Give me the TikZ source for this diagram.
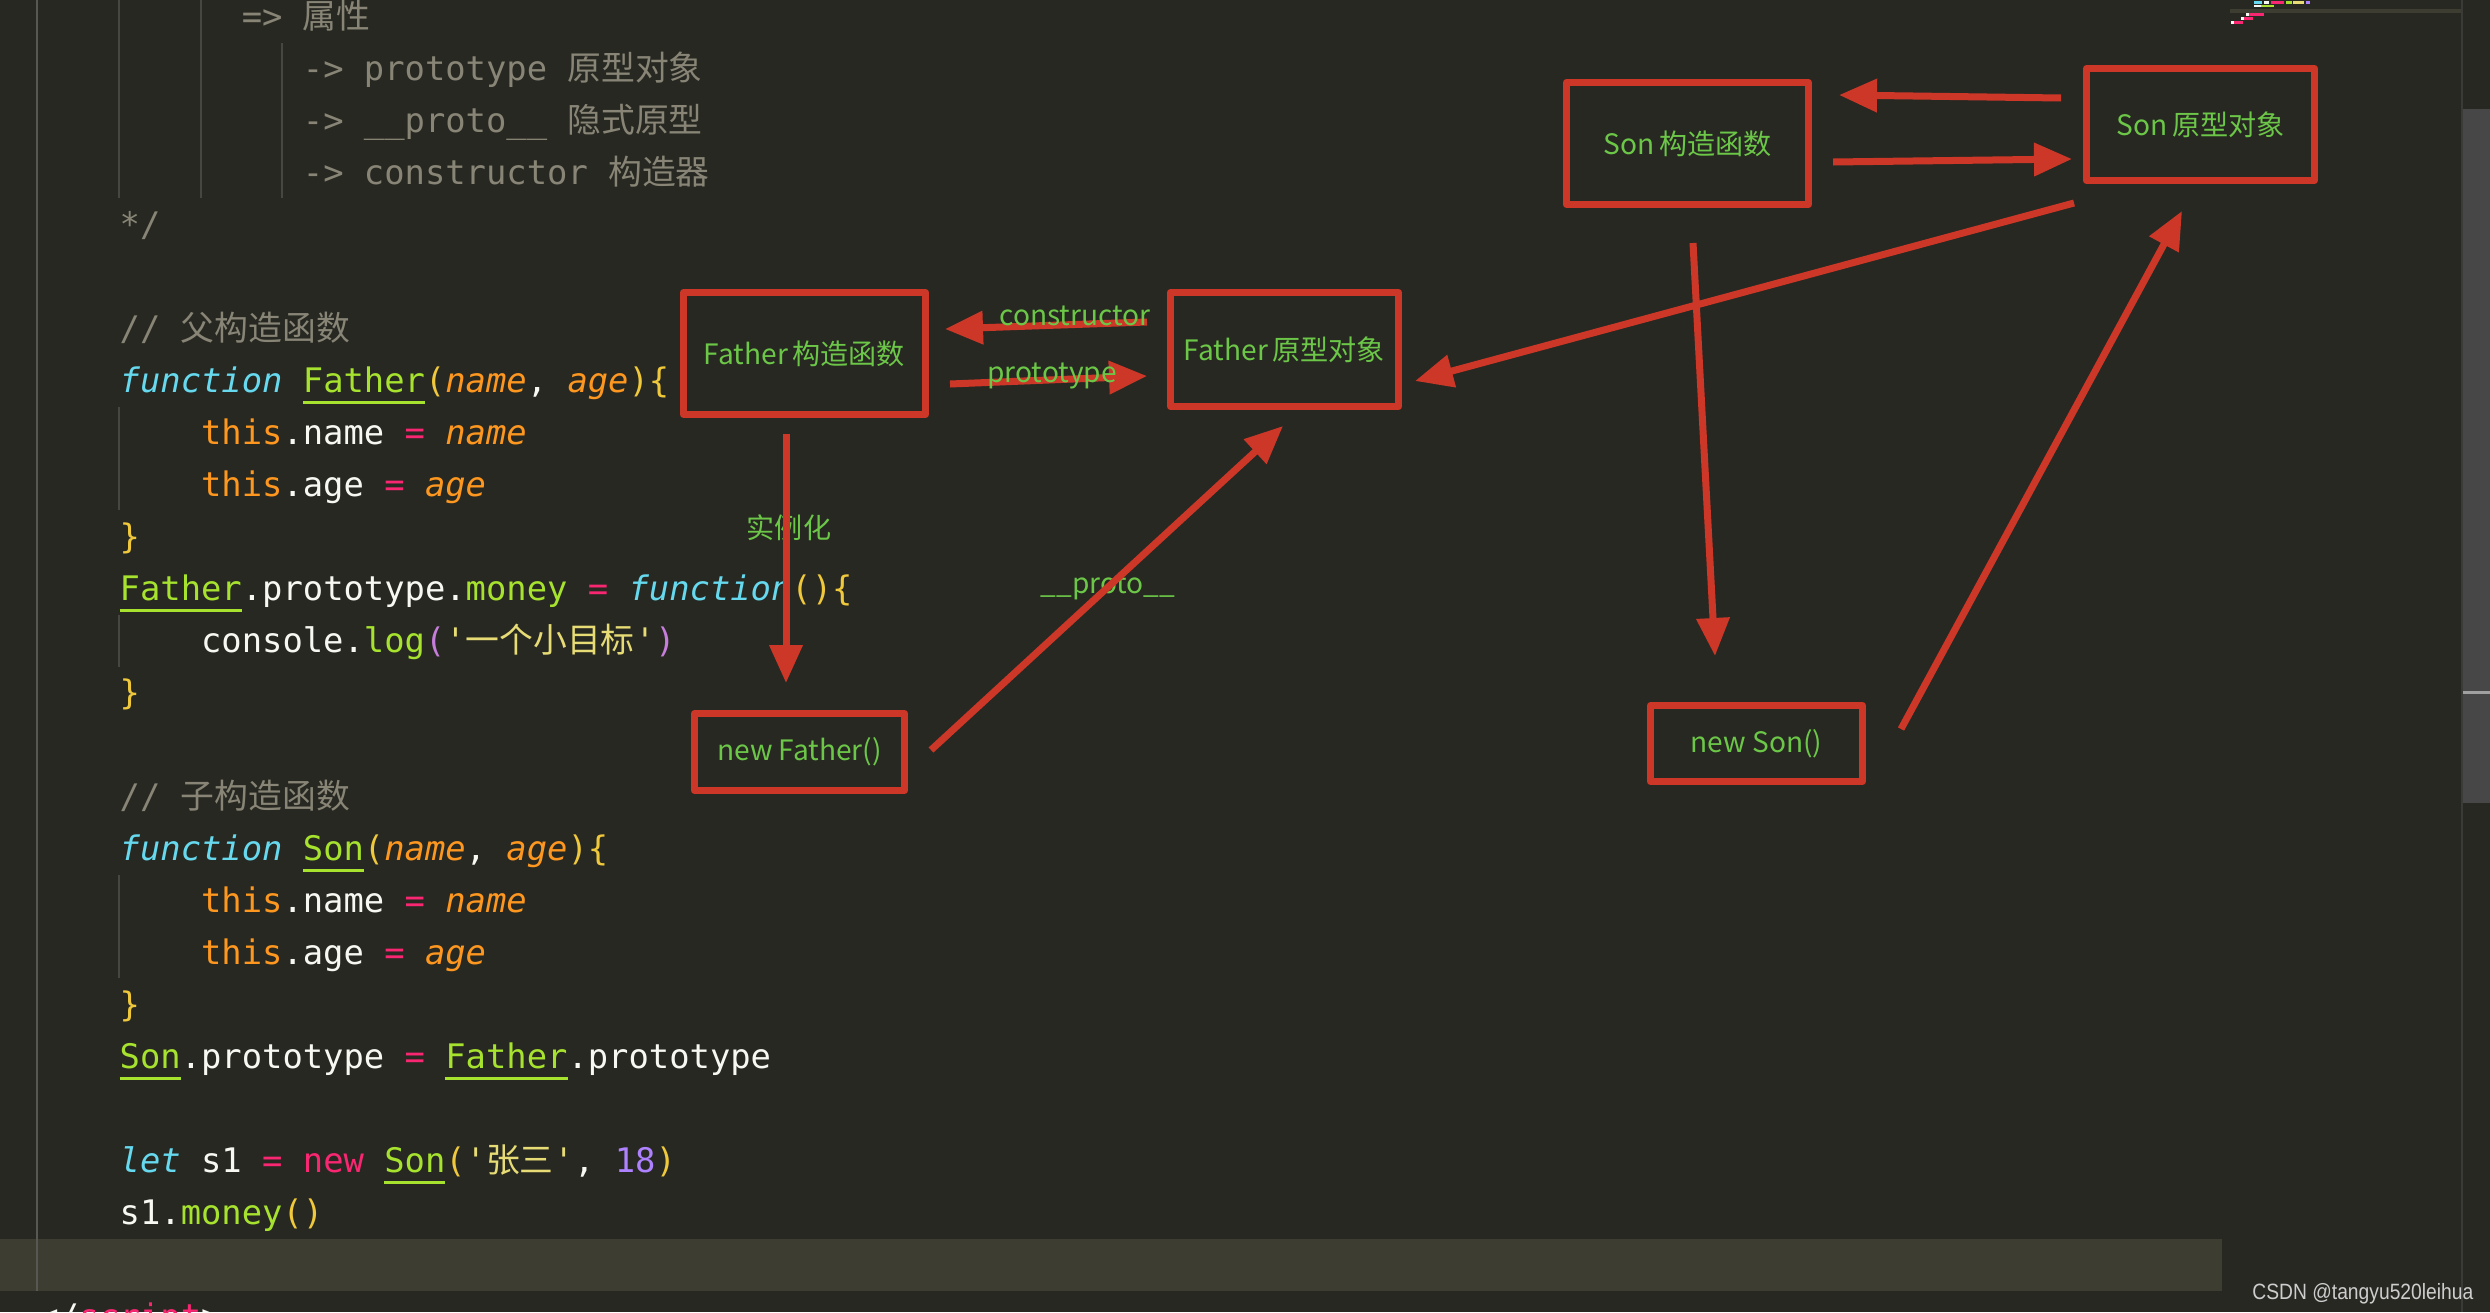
\documentclass[tikz,border=0pt]{standalone}
\usepackage{fontspec}
\usepackage{xcolor}
\usepackage{tikz}
\usetikzlibrary{arrows.meta,positioning}
\newfontfamily\codefont{DejaVu Sans Mono}[ItalicFont={DejaVu Sans Mono Oblique}]
\newfontfamily\cjkfont{Noto Sans CJK SC}
\newfontfamily\notefont{Noto Sans CJK SC}
\newfontfamily\markfont{Liberation Sans}[FakeStretch=0.87]
\definecolor{editorbg}{RGB}{39,40,34}
\definecolor{curline}{RGB}{62,61,50}
\definecolor{guidecol}{RGB}{70,71,64}
\definecolor{gutterline}{RGB}{88,88,82}
\definecolor{mkwhite}{RGB}{248,248,242}
\definecolor{mkcomment}{RGB}{136,133,118}
\definecolor{mkcyan}{RGB}{102,217,239}
\definecolor{mkgreen}{RGB}{166,226,46}
\definecolor{mkorange}{RGB}{253,151,31}
\definecolor{mkpink}{RGB}{249,38,114}
\definecolor{mkyellow}{RGB}{240,200,60}
\definecolor{mkstring}{RGB}{230,219,116}
\definecolor{mkviolet}{RGB}{199,125,219}
\definecolor{mkpurple}{RGB}{174,129,255}
\definecolor{annred}{RGB}{205,55,40}
\definecolor{anngreen}{RGB}{108,199,72}
\definecolor{sbthumb}{RGB}{71,71,71}
\definecolor{sbline}{RGB}{160,160,160}
\definecolor{sbsep}{RGB}{58,58,54}
\definecolor{wmgrey}{RGB}{205,205,205}
% syntax colouring helpers
\newcommand{\zh}[1]{{\cjkfont #1}}
\newcommand{\jscmt}[1]{\textcolor{mkcomment}{#1}}
\newcommand{\jskw}[1]{\textcolor{mkcyan}{\itshape #1}}
\newcommand{\jsfn}[1]{\textcolor{mkgreen}{\setbox0=\hbox{#1}\rlap{\rule[-3.3pt]{\wd0}{0.8pt}}\box0}}
\newcommand{\jspar}[1]{\textcolor{mkorange}{\itshape #1}}
\newcommand{\jsthis}[1]{\textcolor{mkorange}{#1}}
\newcommand{\jsop}[1]{\textcolor{mkpink}{#1}}
\newcommand{\jsbr}[1]{\textcolor{mkyellow}{#1}}
\newcommand{\jsmeth}[1]{\textcolor{mkgreen}{#1}}
\newcommand{\jspn}[1]{\textcolor{mkviolet}{#1}}
\newcommand{\jsstr}[1]{\textcolor{mkstring}{#1}}
\newcommand{\jsnum}[1]{\textcolor{mkpurple}{#1}}
\tikzset{
  codeline/.style={anchor=base west,inner sep=0pt,text=mkwhite,
                   font=\codefont\fontsize{9.62}{11}\selectfont},
  notebox/.style={draw=annred,line width=0.7mm,line join=round,text=anngreen,
                  inner sep=2pt,font=\notefont\fontsize{8}{9}\selectfont},
  notelbl/.style={text=anngreen,inner sep=0pt,font=\notefont\fontsize{8}{9}\selectfont},
  redarr/.style={draw=annred,line width=0.7mm,-{Triangle[length=3.8mm,width=3.2mm]}},
  indent/.style={draw=guidecol,line width=0.15mm},
  mini/.style={line width=0.25mm},
}

\begin{document}
\begin{tikzpicture}[x=0.1mm,y=-0.1mm]
  \useasboundingbox (0,0) rectangle (2490,1312);
  \clip (0,0) rectangle (2490,1312);
  \fill[editorbg] (0,0) rectangle (2490,1312);
  \fill[curline] (0,1239) rectangle (2222,1291);

  % indent guides
  \draw[gutterline,line width=0.2mm] (37,0) -- (37,1291);
  \draw[indent] (119,0) -- (119,198);
  \draw[indent] (201,0) -- (201,198);
  \draw[indent] (282,43) -- (282,198);
  \draw[indent] (119,407) -- (119,510);
  \draw[indent] (119,615) -- (119,667);
  \draw[indent] (119,875) -- (119,978);

  % code
  \node[codeline] (c00) at (241.1,28.5)  {\jscmt{=> \zh{属性}}};
  \node[codeline] (c01) at (302.2,80.5)  {\jscmt{-> prototype \zh{原型对象}}};
  \node[codeline] (c02) at (302.2,132.5) {\jscmt{-> \_\_proto\_\_ \zh{隐式原型}}};
  \node[codeline] (c03) at (302.2,184.5) {\jscmt{-> constructor \zh{构造器}}};
  \node[codeline] (c04) at (119,236.5)   {\jscmt{*/}};
  \node[codeline] (c06) at (119,340.5)   {\jscmt{// \zh{父构造函数}}};
  \node[codeline] (c07) at (119,392.5)   {\jskw{function} \jsfn{Father}\jsbr{(}\jspar{name}, \jspar{age}\jsbr{)\{}};
  \node[codeline] (c08) at (200.4,444.5) {\jsthis{this}.name \jsop{=} \jspar{name}};
  \node[codeline] (c09) at (200.4,496.5) {\jsthis{this}.age \jsop{=} \jspar{age}};
  \node[codeline] (c10) at (119,548.5)   {\jsbr{\}}};
  \node[codeline] (c11) at (119,600.5)   {\jsfn{Father}.prototype.\jsmeth{money} \jsop{=} \jskw{function}\jsbr{()\{}};
  \node[codeline] (c12) at (200.4,652.5) {console.\jsmeth{log}\jspn{(}\jsstr{\textquotesingle\zh{一个小目标}\textquotesingle}\jspn{)}};
  \node[codeline] (c13) at (119,704.5)   {\jsbr{\}}};
  \node[codeline] (c15) at (119,808.5)   {\jscmt{// \zh{子构造函数}}};
  \node[codeline] (c16) at (119,860.5)   {\jskw{function} \jsfn{Son}\jsbr{(}\jspar{name}, \jspar{age}\jsbr{)\{}};
  \node[codeline] (c17) at (200.4,912.5) {\jsthis{this}.name \jsop{=} \jspar{name}};
  \node[codeline] (c18) at (200.4,964.5) {\jsthis{this}.age \jsop{=} \jspar{age}};
  \node[codeline] (c19) at (119,1016.5)  {\jsbr{\}}};
  \node[codeline] (c20) at (119,1068.5)  {\jsfn{Son}.prototype \jsop{=} \jsfn{Father}.prototype};
  \node[codeline] (c22) at (119,1172.5)  {\jskw{let} s1 \jsop{=} \jsop{new} \jsfn{Son}\jsbr{(}\jsstr{\textquotesingle\zh{张三}\textquotesingle}, \jsnum{18}\jsbr{)}};
  \node[codeline] (c23) at (119,1224.5)  {s1.\jsmeth{money}\jsbr{()}};
  \node[codeline] (c25) at (37.6,1328.5) {</\jsop{script}>};

  % minimap and scrollbar
  \fill[curline] (2230,9) rectangle (2462,12.5);
  \draw[mini,mkcyan]   (2254,2.3) -- (2262,2.3);
  \draw[mini,mkwhite]  (2264,2.3) -- (2269,2.3);
  \draw[mini,mkpink]   (2271,2.3) -- (2284,2.3);
  \draw[mini,mkgreen]  (2286,2.3) -- (2292,2.3);
  \draw[mini,mkstring] (2293,2.3) -- (2304,2.3);
  \draw[mini,mkpurple] (2306,2.3) -- (2310,2.3);
  \draw[mini,mkwhite]  (2254,6) -- (2261,6);
  \draw[mini,mkgreen]  (2261,6) -- (2274,6);
  \draw[mini,mkwhite]  (2246,14.7) -- (2249,14.7);
  \draw[mini,mkpink]   (2249,14.7) -- (2264,14.7);
  \draw[mini,mkwhite]  (2241,18.7) -- (2244,18.7);
  \draw[mini,mkpink]   (2244,18.7) -- (2253,18.7);
  \draw[mini,mkwhite]  (2231,22.7) -- (2234,22.7);
  \draw[mini,mkpink]   (2234,22.7) -- (2243,22.7);
  \fill[sbthumb] (2463,109) rectangle (2490,803);
  \draw[sbline,line width=0.3mm] (2463,692) -- (2490,692);
  \draw[sbsep,line width=0.2mm] (2462,0) -- (2462,1312);

  \node[anchor=base east,inner sep=0pt,text=wmgrey,
        font=\markfont\fontsize{6.3}{7}\selectfont] (mark) at (2474,1299) {CSDN @tangyu520leihua};

  % annotations
  \node[notelbl] (lblnew) at (789,528) {实例化};
  \node[notelbl] (lbldunder) at (1108,587) {\_\_proto\_\_};

  \node[notebox,minimum width=24.2mm,minimum height=12.2mm] (fatherctor)  at (804.5,353.5) {Father\,构造函数};
  \node[notebox,minimum width=22.8mm,minimum height=11.4mm] (fatherproto) at (1284.5,349.5) {Father\,原型对象};
  \node[notebox,minimum width=21mm,minimum height=7.7mm]    (fathernew)   at (799.5,752) {new Father()};
  \node[notebox,minimum width=24.2mm,minimum height=12.2mm] (sonctor)     at (1687.5,143.5) {Son\,构造函数};
  \node[notebox,minimum width=22.8mm,minimum height=11.2mm] (sonproto)    at (2200.5,124.5) {Son\,原型对象};
  \node[notebox,minimum width=21.2mm,minimum height=7.6mm]  (sonnew)      at (1756.5,743.5) {new Son()};

  \draw[redarr] ([shift={(-20,-27.5)}]fatherproto.west) -- ([shift={(16,-24.5)}]fatherctor.east);
  \draw[redarr] ([shift={(21,30.5)}]fatherctor.east) -- ([shift={(-20,26.5)}]fatherproto.west);
  \draw[redarr] ([shift={(-18.5,16)}]fatherctor.south) -- ([shift={(-13.5,-27)}]fathernew.north);
  \draw[redarr] ([shift={(23,-2)}]fathernew.east) -- ([shift={(-1.5,16)}]fatherproto.south);
  \draw[redarr] ([shift={(-9,19)}]sonproto.south west) -- ([shift={(13,31.5)}]fatherproto.east);
  \draw[redarr] ([shift={(-22,-26.5)}]sonproto.west) -- ([shift={(27,-48.5)}]sonctor.east);
  \draw[redarr] ([shift={(21,18.5)}]sonctor.east) -- ([shift={(-11,34.5)}]sonproto.west);
  \draw[redarr] ([shift={(5.5,35)}]sonctor.south) -- ([shift={(-41.5,-46)}]sonnew.north);
  \draw[redarr] ([shift={(35,-14.5)}]sonnew.east) -- ([shift={(-18.5,27)}]sonproto.south);

  \node[notelbl] (lblctor)  at (1075,316) {constructor};
  \node[notelbl] (lblproto) at (1052,376) {prototype};
\end{tikzpicture}
\end{document}
